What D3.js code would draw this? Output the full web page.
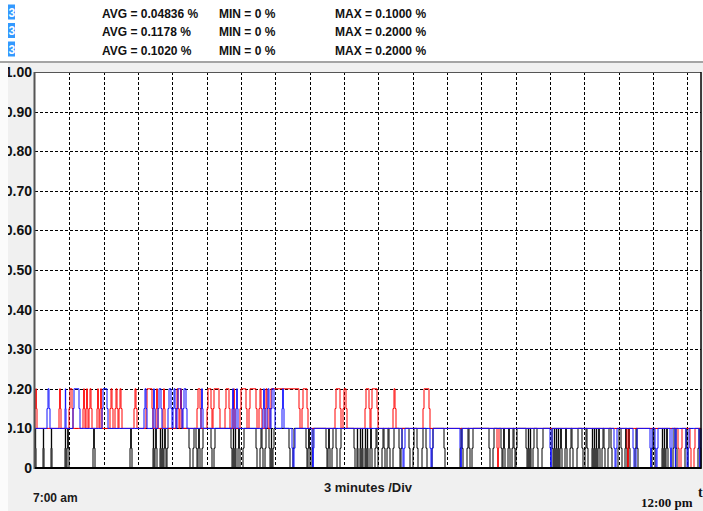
<!DOCTYPE html>
<html>
<head>
<meta charset="utf-8">
<script src="https://cdn.jsdelivr.net/npm/d3@7"></script>
<style>
  body { margin: 0; background: #f0f0f0; overflow: hidden; }
</style>
</head>
<body>
<svg id="chart" width="703" height="511"></svg>
<script>
// summary rows in the header
var avgLabels = ["0.04836", "0.1178", "0.1020"];
var minLabels = ["0", "0", "0"];
var maxLabels = ["0.1000", "0.2000", "0.2000"];

// y axis
var yTicks = [0, 0.1, 0.2, 0.3, 0.4, 0.5, 0.6, 0.7, 0.8, 0.9, 1.0];
var yTickLabels = ["0", "0.10", "0.20", "0.30", "0.40", "0.50", "0.60", "0.70", "0.80", "0.90", "1.00"];

// time base: one sample every ~5.24 s, 3 minutes per division
var sampleSeconds = 5.243;
var divMinutes = 3;
var nSamples = 666;
var startLabel = "7:00 am", endLabel = "12:00 pm", divLabel = "3 minutes /Div";

// pulses as [startSample, endSample]
// black: rests at 0 %, pulses to 0.1 %
var blackHigh = [[0,1],[8,9],[16,17],[30,31],[32,34],[58,60],[95,97],[118,119],[120,122],[125,126],
  [127,128],[129,131],[132,155],[158,162],[163,165],[167,177],[179,197],[198,199],[200,201],[203,205],
  [208,222],[225,228],[230,235],[236,237],[238,255],[258,272],[273,275],[277,292],[293,295],[297,302],
  [305,320],[322,323],[325,326],[327,328],[330,331],[332,333],[335,337],[340,343],[347,350],[352,355],
  [358,365],[366,375],[378,383],[387,392],[397,410],[425,428],[432,435],[437,455],[458,467],[468,470],
  [473,475],[477,480],[481,492],[493,494],[495,496],[498,503],[507,518],[519,520],[521,522],[523,524],
  [525,527],[530,532],[535,538],[542,548],[550,553],[557,558],[559,560],[561,562],[563,565],[567,570],
  [573,577],[583,587],[590,592],[593,595],[600,603],[617,620],[627,628],[629,630],[631,633],[638,642],
  [650,653],[663,666]];

// red: rests at 0.1 %, up to 0.2 % early, a few drops to 0 late
var redHigh = [[0,2],[24,26],[34,38],[48,50],[51,53],[54,57],[62,64],[65,67],[75,78],[80,83],[84,87],
  [99,102],[111,118],[121,123],[128,130],[141,144],[145,147],[162,166],[172,177],[178,185],[190,195],
  [198,200],[205,212],[214,222],[224,227],[230,233],[235,265],[267,273],[300,306],[308,312],[330,335],
  [336,343],[358,361],[388,395]];
var redLow = [[462,464],[592,594],[643,647],[655,660]];

// blue: rests at 0.1 %, up to 0.2 % early, drops to 0 later
var blueHigh = [[12,15],[30,31],[38,45],[67,73],[109,112],[118,120],[123,127],[133,137],[138,141],
  [142,147],[148,152],[166,168],[197,199],[201,203],[228,230],[232,235],[236,240],[247,249]];
var blueLow = [[257,260],[277,279],[367,370],[395,398],[425,427],[515,517],[579,582],[598,602],
  [615,617],[620,623],[635,637],[640,641],[651,654],[664,666]];

var svg = d3.select("#chart");
var W = 703, H = 511;
var plot = { left: 35, right: 701, top: 72, bottom: 468 };

var x = d3.scaleLinear().domain([0, nSamples]).range([plot.left, plot.right]);
var y = d3.scaleLinear().domain([0, 1]).range([plot.bottom, plot.top]);

var samplesPerDiv = divMinutes * 60 / sampleSeconds;
var xGrid = d3.range(samplesPerDiv, nSamples, samplesPerDiv);

// header
svg.append("rect").attr("x", 0).attr("y", 0).attr("width", W).attr("height", 61).attr("fill", "#fff");
svg.append("rect").attr("x", 0).attr("y", 61).attr("width", W).attr("height", 2).attr("fill", "#a4a4a4");

var rowY = [17.5, 36, 54.5];
avgLabels.forEach(function(a, i) {
  svg.append("rect").attr("x", 8).attr("y", rowY[i] - 13).attr("width", 7).attr("height", 15).attr("fill", "#3399ff");
  svg.append("text").attr("x", 8.5).attr("y", rowY[i] - 1).attr("fill", "#fff")
     .style("font", "bold 12px 'Liberation Sans', Arial, sans-serif").text("3");
  var g = svg.append("g").style("font", "bold 12px 'Liberation Sans', Arial, sans-serif").attr("fill", "#111");
  g.append("text").attr("x", 102).attr("y", rowY[i]).text("AVG = " + a + " %");
  g.append("text").attr("x", 219).attr("y", rowY[i]).text("MIN = " + minLabels[i] + " %");
  g.append("text").attr("x", 335).attr("y", rowY[i]).text("MAX = " + maxLabels[i] + " %");
});

// plot background
svg.append("rect").attr("x", plot.left).attr("y", plot.top)
   .attr("width", plot.right - plot.left).attr("height", plot.bottom - plot.top).attr("fill", "#fff");

// grid
svg.append("g").selectAll("line").data(yTicks.filter(function(d) { return d > 0 && d < 1; }))
   .enter().append("line")
   .attr("x1", plot.left).attr("x2", plot.right)
   .attr("y1", function(d) { return Math.round(y(d)) + 0.5; })
   .attr("y2", function(d) { return Math.round(y(d)) + 0.5; })
   .attr("stroke", "#000").attr("stroke-dasharray", "3,2");
svg.append("g").selectAll("line").data(xGrid)
   .enter().append("line")
   .attr("x1", function(d) { return Math.round(x(d)) + 0.5; })
   .attr("x2", function(d) { return Math.round(x(d)) + 0.5; })
   .attr("y1", plot.top).attr("y2", plot.bottom)
   .attr("stroke", "#000").attr("stroke-dasharray", "3,2");

// traces
function tracePoints(base, pulses) {
  var pts = [[0, base]];
  pulses.slice().sort(function(a, b) { return a[0] - b[0]; }).forEach(function(p) {
    var s = p[0], e = p[1], lv = p[2], mid = (base + lv) / 2;
    var dl = Math.min(1, (e - s) / 3);
    pts.push([s, base], [s, mid], [s + dl, mid], [s + dl, lv], [e - dl, lv], [e - dl, mid], [e, mid], [e, base]);
  });
  pts.push([nSamples, base]);
  return pts;
}
function tag(list, lv) { return list.map(function(p) { return [p[0], p[1], lv]; }); }

var line = d3.line().x(function(d) { return x(d[0]); }).y(function(d) { return y(d[1]); });

var series = [
  { color: "#000000", pts: tracePoints(0, tag(blackHigh, 0.1)) },
  { color: "#ff0000", pts: tracePoints(0.1, tag(redHigh, 0.2).concat(tag(redLow, 0))) },
  { color: "#1010ff", pts: tracePoints(0.1, tag(blueHigh, 0.2).concat(tag(blueLow, 0))) }
];
svg.append("g").selectAll("path").data(series).enter().append("path")
   .attr("d", function(d) { return line(d.pts); })
   .attr("fill", "none").attr("stroke", function(d) { return d.color; })
   .attr("stroke-width", 1).attr("stroke-linejoin", "miter");

// frame
svg.append("line").attr("x1", plot.left).attr("x2", plot.right).attr("y1", plot.top + 0.5).attr("y2", plot.top + 0.5)
   .attr("stroke", "#555");
svg.append("line").attr("x1", plot.left - 0.5).attr("x2", plot.left - 0.5).attr("y1", plot.top).attr("y2", plot.bottom + 1)
   .attr("stroke", "#555").attr("stroke-width", 2);
svg.append("line").attr("x1", plot.right).attr("x2", plot.right).attr("y1", plot.top).attr("y2", plot.bottom + 1)
   .attr("stroke", "#000").attr("stroke-width", 1.5);
svg.append("line").attr("x1", plot.left).attr("x2", plot.right).attr("y1", plot.bottom).attr("y2", plot.bottom)
   .attr("stroke", "#000").attr("stroke-width", 2);

// y labels
svg.append("g").selectAll("text").data(yTicks).enter().append("text")
   .attr("x", 32).attr("y", function(d) { return y(d) + 5; })
   .attr("text-anchor", "end")
   .style("font", "bold 14px 'Liberation Sans', Arial, sans-serif").attr("fill", "#111")
   .text(function(d, i) { return yTickLabels[i]; });

// white strip at far left that clips the labels
svg.append("rect").attr("x", 0).attr("y", 63).attr("width", 8).attr("height", H - 63).attr("fill", "#fbfbfb");

// bottom labels
svg.append("text").attr("x", 33).attr("y", 502)
   .style("font", "bold 12px 'Liberation Sans', Arial, sans-serif").attr("fill", "#1a1a1a").text(startLabel);
svg.append("text").attr("x", 368).attr("y", 492).attr("text-anchor", "middle")
   .style("font", "bold 13px 'Liberation Sans', Arial, sans-serif").attr("fill", "#1a1a1a").text(divLabel);
svg.append("text").attr("x", 641).attr("y", 507)
   .style("font", "bold 13px 'Liberation Serif', 'Times New Roman', serif").attr("fill", "#111").text(endLabel);
svg.append("text").attr("x", 698).attr("y", 497)
   .style("font", "bold 14px 'Liberation Serif', 'Times New Roman', serif").attr("fill", "#111").text("t");
</script>
</body>
</html>
